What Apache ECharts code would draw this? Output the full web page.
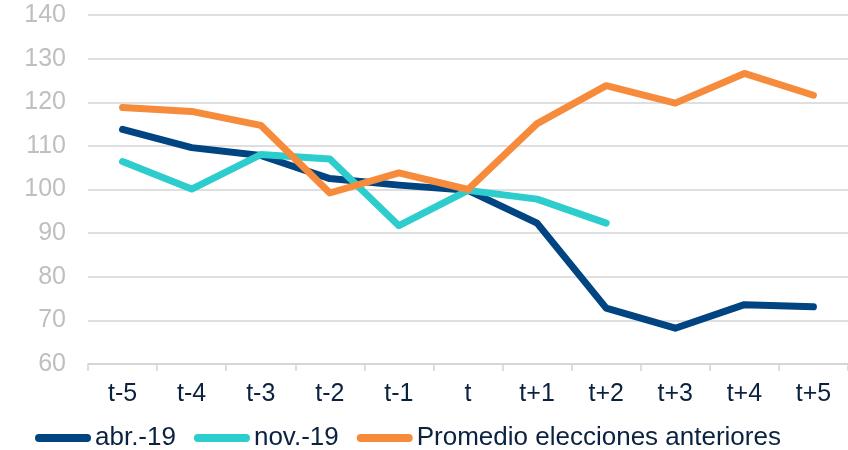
<!DOCTYPE html>
<html>
<head>
<meta charset="utf-8">
<script src="https://cdn.jsdelivr.net/npm/echarts@6/dist/echarts.min.js"></script>
<style>
  html, body { margin: 0; padding: 0; background: #ffffff; }
  #chart { width: 848px; height: 450px; }
</style>
</head>
<body>
<div id="chart"></div>
<script>
// Periods around the election date
const categories = ['t-5', 't-4', 't-3', 't-2', 't-1', 't', 't+1', 't+2', 't+3', 't+4', 't+5'];

// Index values (t = 100)
const abr19 = [113.8, 109.6, 107.8, 102.5, 101.0, 99.8, 92.3, 72.8, 68.2, 73.6, 73.1];
const nov19 = [106.4, 100.1, 108.0, 107.0, 91.7, 99.8, 97.8, 92.3];
const promedio = [118.8, 117.9, 114.7, 99.2, 103.8, 100.0, 115.1, 123.8, 119.8, 126.6, 121.6];

const seriesNames = ['abr.-19', 'nov.-19', 'Promedio elecciones anteriores'];
const yTicks = { min: 60, max: 140, interval: 10 };

const colors = ['#004481', '#2DCCCD', '#F78B3C'];
const font = '"Liberation Sans", Arial, sans-serif';

// Pill-shaped legend marker (rounded line segment)
const pillIcon = 'path://M4,0 L52,0 A4,4 0 0 1 52,8 L4,8 A4,4 0 0 1 4,0 Z';

const chart = echarts.init(document.getElementById('chart'), null, { renderer: 'canvas' });

function lineSeries(name, data, color) {
  return {
    name: name,
    type: 'line',
    data: data,
    symbol: 'none',
    smooth: false,
    lineStyle: { color: color, width: 7, cap: 'round', join: 'round' },
    itemStyle: { color: color },
    emphasis: { disabled: true }
  };
}

chart.setOption({
  animation: false,
  color: colors,
  grid: { left: 88, right: -4, top: 15, bottom: 86, containLabel: false },
  legend: {
    left: 35,
    top: 425,
    padding: 0,
    itemWidth: 56,
    itemHeight: 8,
    itemGap: 18,
    icon: pillIcon,
    textStyle: { fontFamily: font, fontSize: 26, color: '#0a2240', padding: [0, 0, 0, -1] },
    data: seriesNames.map(function (n, i) { return { name: n, icon: pillIcon, itemStyle: { color: colors[i] } }; })
  },
  xAxis: {
    type: 'category',
    data: categories,
    boundaryGap: true,
    axisLine: { show: true, lineStyle: { color: '#d4d4d4', width: 1.5 } },
    axisTick: { show: true, length: 7, lineStyle: { color: '#d4d4d4', width: 1.5 } },
    axisLabel: { fontFamily: font, fontSize: 25, color: '#0a2240', margin: 18 },
    splitLine: { show: false }
  },
  yAxis: {
    type: 'value',
    min: yTicks.min,
    max: yTicks.max,
    interval: yTicks.interval,
    axisLine: { show: false },
    axisTick: { show: false },
    axisLabel: { fontFamily: font, fontSize: 25, color: '#bfbfbf', margin: 22 },
    splitLine: { show: true, lineStyle: { color: '#d4d4d4', width: 1.5 } }
  },
  series: [
    lineSeries(seriesNames[0], abr19, colors[0]),
    lineSeries(seriesNames[1], nov19, colors[1]),
    lineSeries(seriesNames[2], promedio, colors[2])
  ]
});
</script>
</body>
</html>
